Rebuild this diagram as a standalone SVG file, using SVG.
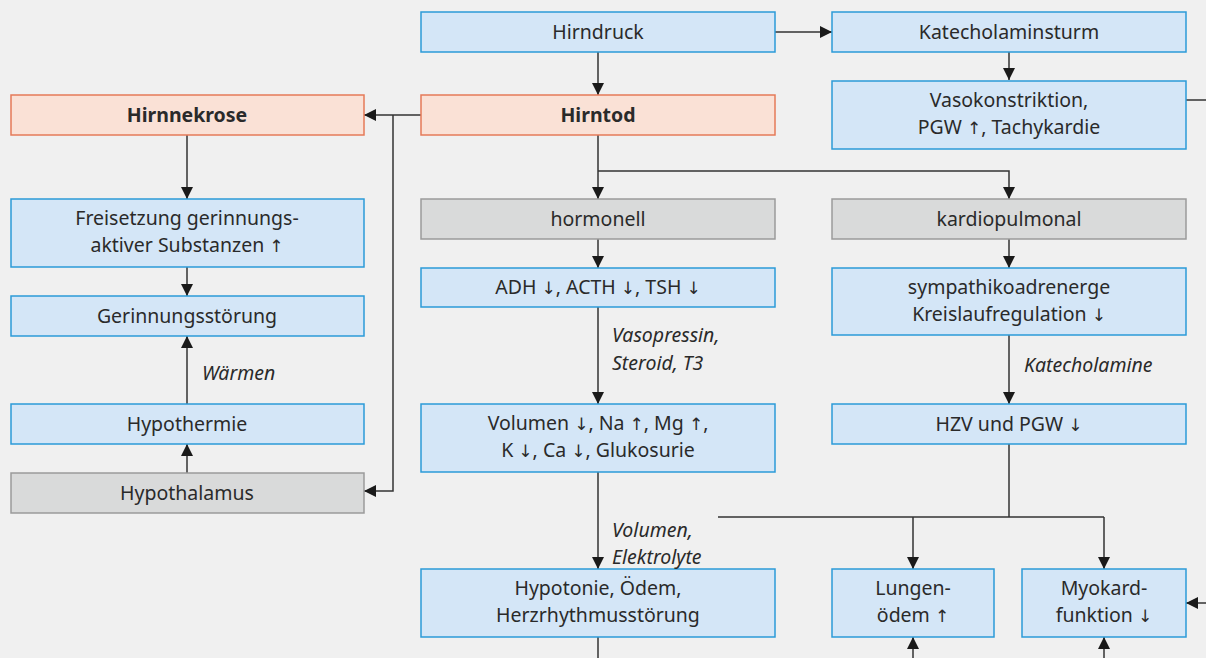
<svg xmlns="http://www.w3.org/2000/svg" width="1206" height="658" viewBox="0 0 1206 658">
<defs>
<marker id="ah" markerWidth="12" markerHeight="12" refX="12" refY="6" orient="auto" markerUnits="userSpaceOnUse">
<path d="M0,0 L12,6 L0,12 Z" fill="#1a1a1a"/>
</marker>
<style>
.b{fill:#d4e6f7;stroke:#2b9ad8;stroke-width:1.5}
.o{fill:#fae1d6;stroke:#e57a58;stroke-width:1.5}
.g{fill:#d9dada;stroke:#9a9a9a;stroke-width:1.5}
text{font-family:"Noto Sans","Open Sans",sans-serif;font-size:19.5px;fill:#2a2a2a;text-anchor:middle}
text.bold{font-weight:bold}
text.it{font-style:italic;text-anchor:start}
tspan.ar{font-family:"DejaVu Sans",sans-serif;font-size:17px}
.c line,.c polyline{stroke:#333;stroke-width:1.5;fill:none}
</style>
</defs>
<rect width="1206" height="658" fill="#f0f0f0"/>

<g class="c" id="connectors">
<line x1="775" y1="32" x2="832" y2="32" marker-end="url(#ah)"/>
<line x1="598" y1="52" x2="598" y2="95" marker-end="url(#ah)"/>
<line x1="1009" y1="52" x2="1009" y2="80" marker-end="url(#ah)"/>
<line x1="1186" y1="100" x2="1206" y2="100"/>
<line x1="421" y1="115" x2="364" y2="115" marker-end="url(#ah)"/>
<polyline points="393,115 393,491 364,491" marker-end="url(#ah)"/>
<line x1="187" y1="135" x2="187" y2="199" marker-end="url(#ah)"/>
<line x1="187" y1="267" x2="187" y2="296" marker-end="url(#ah)"/>
<line x1="187" y1="404" x2="187" y2="336" marker-end="url(#ah)"/>
<line x1="187" y1="473" x2="187" y2="444" marker-end="url(#ah)"/>
<line x1="598" y1="135" x2="598" y2="199" marker-end="url(#ah)"/>
<polyline points="598,171 1009,171 1009,199" marker-end="url(#ah)"/>
<line x1="598" y1="239" x2="598" y2="268" marker-end="url(#ah)"/>
<line x1="598" y1="307" x2="598" y2="404" marker-end="url(#ah)"/>
<line x1="1009" y1="239" x2="1009" y2="268" marker-end="url(#ah)"/>
<line x1="1009" y1="335" x2="1009" y2="404" marker-end="url(#ah)"/>
<line x1="598" y1="472" x2="598" y2="569" marker-end="url(#ah)"/>
<line x1="1009" y1="444" x2="1009" y2="517"/>
<line x1="718" y1="517" x2="1104" y2="517"/>
<line x1="913" y1="517" x2="913" y2="569" marker-end="url(#ah)"/>
<line x1="1104" y1="517" x2="1104" y2="569" marker-end="url(#ah)"/>
<line x1="598" y1="637" x2="598" y2="658"/>
<line x1="913" y1="658" x2="913" y2="637" marker-end="url(#ah)"/>
<line x1="1104" y1="658" x2="1104" y2="637" marker-end="url(#ah)"/>
<line x1="1206" y1="603" x2="1186" y2="603" marker-end="url(#ah)"/>
</g>

<g id="n-hirndruck"><rect class="b" x="421" y="12" width="354" height="40"/><text x="598" y="39">Hirndruck</text></g>
<g id="n-katecholaminsturm"><rect class="b" x="832" y="12" width="354" height="40"/><text x="1009" y="39">Katecholaminsturm</text></g>
<g id="n-vasokonstriktion"><rect class="b" x="832" y="81" width="354" height="68"/><text x="1009" y="107">Vasokonstriktion,</text><text x="1009" y="134">PGW <tspan class="ar">↑</tspan>, Tachykardie</text></g>
<g id="n-hirnnekrose"><rect class="o" x="11" y="95" width="353" height="40"/><text class="bold" x="187" y="122">Hirnnekrose</text></g>
<g id="n-hirntod"><rect class="o" x="421" y="95" width="354" height="40"/><text class="bold" x="598" y="122">Hirntod</text></g>
<g id="n-freisetzung"><rect class="b" x="11" y="199" width="353" height="68"/><text x="187" y="225">Freisetzung gerinnungs-</text><text x="187" y="252">aktiver Substanzen <tspan class="ar">↑</tspan></text></g>
<g id="n-gerinnungsstoerung"><rect class="b" x="11" y="296" width="353" height="40"/><text x="187" y="323">Gerinnungsstörung</text></g>
<g id="n-hypothermie"><rect class="b" x="11" y="404" width="353" height="40"/><text x="187" y="431">Hypothermie</text></g>
<g id="n-hypothalamus"><rect class="g" x="11" y="473" width="353" height="40"/><text x="187" y="500">Hypothalamus</text></g>
<g id="n-hormonell"><rect class="g" x="421" y="199" width="354" height="40"/><text x="598" y="226">hormonell</text></g>
<g id="n-kardiopulmonal"><rect class="g" x="832" y="199" width="354" height="40"/><text x="1009" y="226">kardiopulmonal</text></g>
<g id="n-adh"><rect class="b" x="421" y="268" width="354" height="39"/><text x="598" y="294">ADH <tspan class="ar">↓</tspan>, ACTH <tspan class="ar">↓</tspan>, TSH <tspan class="ar">↓</tspan></text></g>
<g id="n-sympathiko"><rect class="b" x="832" y="268" width="354" height="67"/><text x="1009" y="294">sympathikoadrenerge</text><text x="1009" y="321">Kreislaufregulation <tspan class="ar">↓</tspan></text></g>
<g id="n-volumen"><rect class="b" x="421" y="404" width="354" height="68"/><text x="598" y="430">Volumen <tspan class="ar">↓</tspan>, Na <tspan class="ar">↑</tspan>, Mg <tspan class="ar">↑</tspan>,</text><text x="598" y="457">K <tspan class="ar">↓</tspan>, Ca <tspan class="ar">↓</tspan>, Glukosurie</text></g>
<g id="n-hzv"><rect class="b" x="832" y="404" width="354" height="40"/><text x="1009" y="431">HZV und PGW <tspan class="ar">↓</tspan></text></g>
<g id="n-hypotonie"><rect class="b" x="421" y="569" width="354" height="68"/><text x="598" y="595">Hypotonie, Ödem,</text><text x="598" y="622">Herzrhythmusstörung</text></g>
<g id="n-lungenoedem"><rect class="b" x="832" y="569" width="162" height="68"/><text x="913" y="595">Lungen-</text><text x="913" y="622">ödem <tspan class="ar">↑</tspan></text></g>
<g id="n-myokard"><rect class="b" x="1022" y="569" width="164" height="68"/><text x="1104" y="595">Myokard-</text><text x="1104" y="622">funktion <tspan class="ar">↓</tspan></text></g>

<g id="labels">
<text class="it" x="612" y="342">Vasopressin,</text>
<text class="it" x="612" y="370">Steroid, T3</text>
<text class="it" x="202" y="380">Wärmen</text>
<text class="it" x="1024" y="372">Katecholamine</text>
<text class="it" x="612" y="537">Volumen,</text>
<text class="it" x="612" y="564">Elektrolyte</text>
</g>
</svg>
